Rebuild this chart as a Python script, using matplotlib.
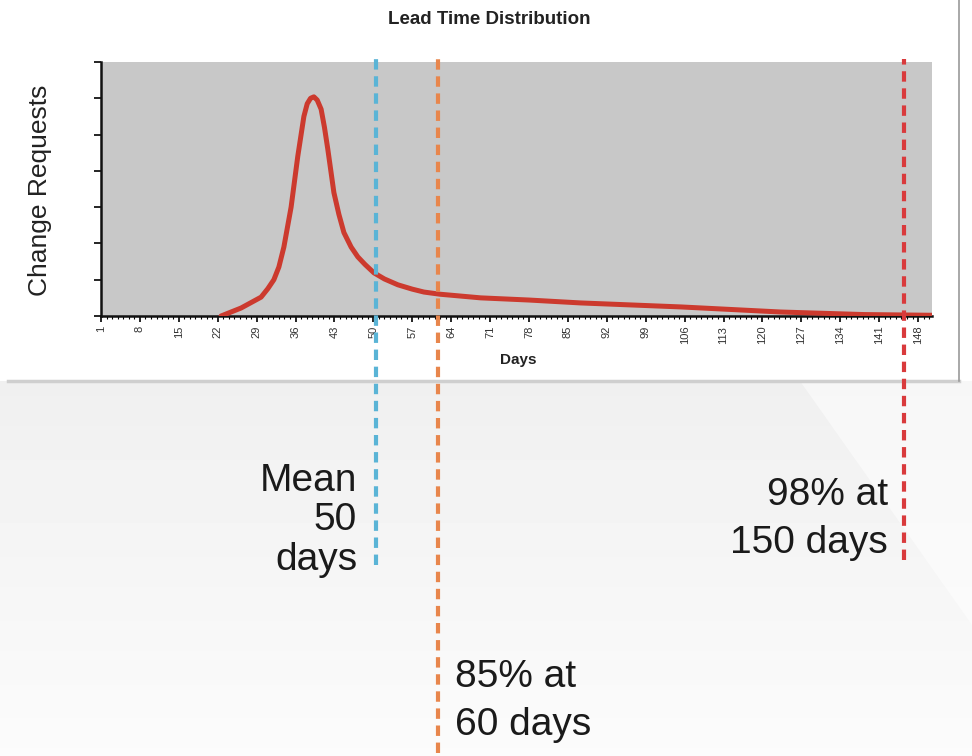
import numpy as np
import matplotlib
matplotlib.use("Agg")
import matplotlib.pyplot as plt
from matplotlib.patches import Rectangle, Polygon

plt.rcParams['font.family'] = ['Liberation Sans', 'DejaVu Sans']

# lead time curve (day, change requests)
days = [22.6, 26.2, 29.8, 31.0, 32.1, 33.0, 33.9, 35.2, 36.4, 37.5, 38.1, 38.7,
        39.3, 39.9, 40.6, 41.2, 41.8, 42.9, 43.8, 44.7, 46.0, 47.2, 48.5, 50.1,
        52.0, 54.4, 57.0, 59.1, 62.0, 69.3, 78.0, 87.3, 105.3, 123.3, 138.2, 150.5]
requests = [0.0, 0.22, 0.52, 0.75, 1.0, 1.35, 1.9, 3.0, 4.4, 5.5, 5.85, 6.0,
            6.04, 5.95, 5.7, 5.2, 4.6, 3.4, 2.8, 2.3, 1.9, 1.63, 1.42, 1.19,
            1.02, 0.86, 0.74, 0.66, 0.6, 0.5, 0.44, 0.36, 0.25, 0.11, 0.04, 0.02]
tick_days = list(range(1, 149, 7))

# marker lines on the day axis
mean_day = 50.5
p85_day = 61.6
p98_day = 145.5

W, H = 972, 756


def fx(x):
    return x / W


def fy(y):
    return 1 - y / H


fig = plt.figure(figsize=(9.72, 7.56), dpi=100)
fig.patch.set_facecolor('white')

# slide background behind the chart
bg = fig.add_axes([0, 0, 1, 1], zorder=-5)
bg.set_xlim(0, W)
bg.set_ylim(H, 0)
bg.axis('off')
grad = np.linspace(0.94, 0.985, 100).reshape(-1, 1)
bg.imshow(grad, cmap='gray', vmin=0, vmax=1, aspect='auto',
          extent=(0, W, H, 381), zorder=0)
bg.add_patch(Polygon([(800, 381), (W, 381), (W, 625)], closed=True,
                     facecolor='white', alpha=0.5, edgecolor='none', zorder=1))
bg.add_patch(Rectangle((0, 0), W, 381, facecolor='white', edgecolor='none', zorder=2))
bg.plot([8, 959], [381, 381], color='#cfcfcf', lw=2.5, zorder=3)
bg.plot([959, 959], [0, 381], color='#9a9a9a', lw=1.2, zorder=3)

ax = fig.add_axes([fx(101), fy(316), (932 - 101) / W, (316 - 62) / H])
ax.set_facecolor('#c8c8c8')
ax.plot(days, requests, color='#cc3a2e', lw=3.6, solid_capstyle='round',
        solid_joinstyle='round', zorder=3)

ax.set_xlim(1, 150.5)
ax.set_ylim(0, 7)
ax.set_xticks(tick_days)
ax.set_xticklabels([str(d) for d in tick_days], rotation=90, fontsize=8, color='#333333')
ax.set_xticks(np.arange(1, 151), minor=True)
ax.set_yticks(np.arange(0, 8))
ax.set_yticklabels([])
ax.tick_params(axis='x', which='major', length=4, width=1.2, pad=3)
ax.tick_params(axis='x', which='minor', length=2, width=0.8)
ax.tick_params(axis='y', length=5, width=1.2)
for s in ['top', 'right']:
    ax.spines[s].set_visible(False)
for s in ['left', 'bottom']:
    ax.spines[s].set_linewidth(1.8)
    ax.spines[s].set_color('#111111')

dash = (0, (2.5, 1.6))
ax.axvline(mean_day, ymin=-0.98, ymax=1.01, color='#5ab4d6', lw=3, ls=dash,
           clip_on=False, zorder=5)
ax.axvline(p85_day, ymin=-1.72, ymax=1.01, color='#e8864c', lw=3, ls=dash,
           clip_on=False, zorder=5)
ax.axvline(p98_day, ymin=-0.96, ymax=1.01, color='#d93a3c', lw=3, ls=dash,
           clip_on=False, zorder=5)

fig.text(fx(489), fy(24), 'Lead Time Distribution', ha='center', va='baseline',
         fontsize=13.5, fontweight='bold', color='#222222')
fig.text(fx(518), fy(364), 'Days', ha='center', va='baseline',
         fontsize=11, fontweight='bold', color='#222222')
fig.text(fx(40), fy(190), 'Change Requests', ha='center', va='center',
         rotation=90, fontsize=19, color='#222222')

# va='baseline' lines up the last line's baseline
fig.text(fx(357), fy(570), 'Mean\n50\ndays', ha='right', va='baseline',
         multialignment='right', linespacing=1.13, fontsize=28, color='#1a1a1a')
fig.text(fx(888), fy(553), '98% at\n150 days', ha='right', va='baseline',
         multialignment='right', linespacing=1.42, fontsize=28, color='#1a1a1a')
fig.text(fx(455), fy(735), '85% at\n60 days', ha='left', va='baseline',
         multialignment='left', linespacing=1.42, fontsize=28, color='#1a1a1a')

fig.savefig('out.png', dpi=100)
